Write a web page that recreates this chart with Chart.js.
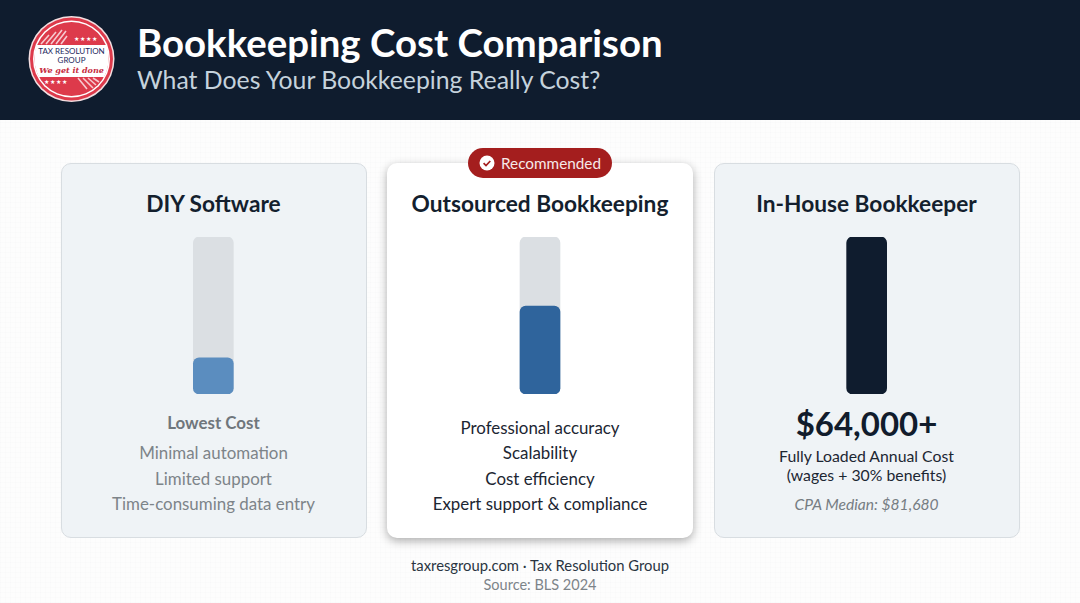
<!DOCTYPE html>
<html><head><meta charset="utf-8">
<script src="https://cdn.jsdelivr.net/npm/chart.js@4"></script>
<style>
*{box-sizing:border-box;margin:0;padding:0}
html,body{width:1080px;height:603px;overflow:hidden;font-family:Lato,sans-serif;color:#111c2c}
body{background-color:#fdfdfd;background-image:repeating-linear-gradient(0deg,rgba(60,70,80,.012) 0 1px,transparent 1px 5px),repeating-linear-gradient(90deg,rgba(60,70,80,.012) 0 1px,transparent 1px 5px)}
.abs{position:absolute;white-space:nowrap}
.c{text-align:center;transform:translateX(-50%)}
#hdr{position:absolute;left:0;top:0;width:1080px;height:120px;background:#0f1c2e}
#t1{left:137px;top:19px;font-size:38.4px;font-weight:700;color:#fff;line-height:46px}
#t2{left:137px;top:65px;font-size:24.8px;color:#c5d2dc;line-height:30px}
.card{position:absolute;top:163px;width:306px;height:375px;border-radius:10px}
.side{background:#eff3f6;border:1px solid #d8dde1}
#c2{background:#fff;box-shadow:0 3px 10px rgba(0,0,0,.32)}
.h{font-size:22.7px;font-weight:700;line-height:30px;color:#141f2e}
.g{font-size:16.9px;color:#7d8489;line-height:24px}
.k{font-size:16.9px;color:#1c2632;line-height:24px}
#wrap{position:absolute;left:50.3px;top:236.5px;width:980px;height:157px}
#badge{position:absolute;left:468px;top:148px;width:144px;height:30px;border-radius:15px;background:#a41e1e;color:#f6e8e8;font-size:15.3px;line-height:30px;padding-left:33px}
</style></head><body>
<div id="hdr"></div>
<svg class="abs" style="left:28px;top:15px" width="88" height="88" viewBox="0 0 88 88">
<circle cx="43.5" cy="44" r="43" fill="#f3dfe1"/><circle cx="43.5" cy="44" r="41.5" fill="#dd3a4b"/><circle cx="43.5" cy="44" r="38.5" fill="#fff"/><circle cx="43.5" cy="44" r="37" fill="#dd3a4b"/>
<path d="M8.5 30 H78.5 A37 37 0 0 1 80.5 44 A37 37 0 0 1 76 62 H11 A37 37 0 0 1 6.5 44 A37 37 0 0 1 8.5 30Z" fill="#fff"/>
<g stroke="#f6c9cf" stroke-width="1.6"><path d="M13 29l8 -9M18 29l10 -12M23 29l11 -14M28 29l10 -13M33 29l6 -8M50 63l9 11M55 63l10 10M60 63l8 7M65 63l6 4"/></g>
<text x="43.5" y="39" text-anchor="middle" font-family="Lato" font-size="8" fill="#1e2a5e">TAX RESOLUTION</text>
<text x="43.5" y="47.5" text-anchor="middle" font-family="Lato" font-size="8" fill="#1e2a5e">GROUP</text>
<text x="43.5" y="58" text-anchor="middle" font-family="DejaVu Serif" font-style="italic" font-weight="700" font-size="8" fill="#c62c3e">We get it done</text>
<text x="58" y="26" text-anchor="middle" font-size="5.5" letter-spacing="1" fill="#fff">★★★★</text>
<text x="28" y="69" text-anchor="middle" font-size="5.5" letter-spacing="1" fill="#fff">★★★★</text>
</svg>
<div class="abs" id="t1">Bookkeeping Cost Comparison</div>
<div class="abs" id="t2">What Does Your Bookkeeping Really Cost?</div>

<div class="card side" style="left:60.5px"></div>
<div class="card" id="c2" style="left:387px"></div>
<div class="card side" style="left:713.5px"></div>

<div id="wrap"><canvas id="chart"></canvas></div>

<div id="badge">Recommended</div>
<svg class="abs" style="left:479px;top:155px" width="16" height="16" viewBox="0 0 16 16"><circle cx="8" cy="8" r="7.5" fill="#fff"/><path d="M4.6 8.2l2.4 2.4 4.3-4.6" fill="none" stroke="#a41e1e" stroke-width="1.7"/></svg>

<div class="abs c h" style="left:213.5px;top:189px">DIY Software</div>
<div class="abs c h" style="left:540px;top:189px">Outsourced Bookkeeping</div>
<div class="abs c h" style="left:866.5px;top:189px">In-House Bookkeeper</div>

<div class="abs c" style="left:213.5px;top:411px;font-size:16.9px;font-weight:700;color:#6f767c;line-height:24px">Lowest Cost</div>
<div class="abs c g" style="left:213.5px;top:441px">Minimal automation</div>
<div class="abs c g" style="left:213.5px;top:467px">Limited support</div>
<div class="abs c g" style="left:213.5px;top:492px">Time-consuming data entry</div>

<div class="abs c k" style="left:540px;top:415.5px">Professional accuracy</div>
<div class="abs c k" style="left:540px;top:441px">Scalability</div>
<div class="abs c k" style="left:540px;top:467px">Cost efficiency</div>
<div class="abs c k" style="left:540px;top:492px">Expert support &amp; compliance</div>

<div class="abs c" style="left:866.5px;top:401px;font-size:33px;font-weight:700;line-height:44px;color:#111c2c">$64,000+</div>
<div class="abs c k" style="left:866.5px;top:443.5px;font-size:15.8px">Fully Loaded Annual Cost</div>
<div class="abs c k" style="left:866.5px;top:462.5px;font-size:15.8px">(wages + 30% benefits)</div>
<div class="abs c" style="left:866.5px;top:492px;font-size:15.6px;font-style:italic;color:#767d83;line-height:24px">CPA Median: $81,680</div>

<div class="abs c" style="left:540px;top:555px;font-size:14.8px;color:#2a3542;line-height:20px">taxresgroup.com · Tax Resolution Group</div>
<div class="abs c" style="left:540px;top:575px;font-size:14.5px;color:#7d8489;line-height:20px">Source: BLS 2024</div>

<script>
const categories = ["DIY Software", "Outsourced Bookkeeping", "In-House Bookkeeper"];
const costLevel = [23, 56, 100];
const trackLevel = [100, 100, 100];
const fillColors = ["#5b8dbf", "#2f649c", "#0f1c2e"];
new Chart(document.getElementById("chart"), {
  type: "bar",
  data: { labels: categories, datasets: [
    { label: "Relative cost", data: costLevel, backgroundColor: fillColors, order: 1 },
    { label: "Scale", data: trackLevel, backgroundColor: "#dbdfe3", order: 2 }
  ]},
  options: {
    responsive: true, maintainAspectRatio: false, animation: false,
    layout: { padding: 0 },
    datasets: { bar: { barThickness: 40, grouped: false, borderRadius: 6, borderSkipped: false } },
    plugins: { legend: { display: false }, tooltip: { enabled: false }, title: { display: false } },
    scales: {
      x: { display: false, grid: { display: false } },
      y: { display: false, min: 0, max: 100, grid: { display: false } }
    }
  }
});
</script>
</body></html>
